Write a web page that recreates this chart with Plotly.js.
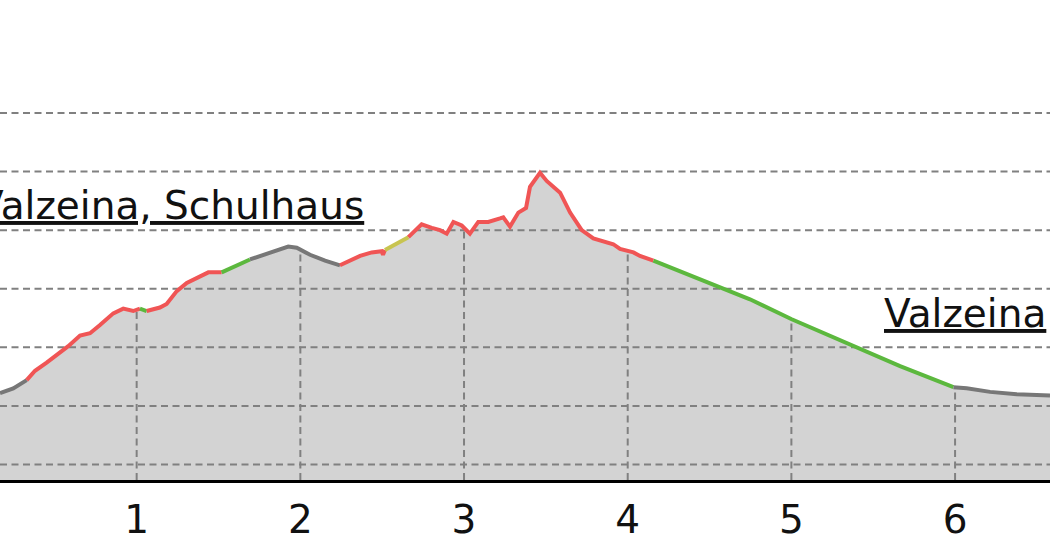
<!DOCTYPE html>
<html>
<head>
<meta charset="utf-8">
<script src="https://cdn.plot.ly/plotly-3.0.1.min.js"></script>
<style>
  html, body { margin: 0; padding: 0; background: #fff; }
  #chart { width: 1050px; height: 560px; }
</style>
</head>
<body>
<div id="chart"></div>
<script>
// elevation profile, distance in km, elevation in m
const distKm = [
    0.165, 0.246, 0.328, 0.379, 0.450, 0.521, 0.582, 0.654, 0.715, 0.776,
    0.857, 0.918, 0.979, 1.020, 1.061, 1.142, 1.183, 1.245, 1.306, 1.367,
    1.438, 1.519, 1.621, 1.692, 1.815, 1.926, 1.978, 2.059, 2.151, 2.242,
    2.365, 2.436, 2.497, 2.505, 2.517, 2.609, 2.660, 2.741, 2.803, 2.853,
    2.894, 2.935, 2.986, 3.036, 3.087, 3.148, 3.220, 3.240, 3.281, 3.332,
    3.379, 3.403, 3.464, 3.505, 3.587, 3.648, 3.719, 3.790, 3.912, 3.953,
    4.035, 4.075, 4.157, 4.747, 5.002, 5.358, 5.664, 5.990, 6.071, 6.214,
    6.377, 6.580
];
const elevM = [
    1161, 1165, 1172, 1180, 1187, 1194, 1201, 1210, 1212, 1219,
    1229, 1233, 1231, 1233, 1231, 1234, 1237, 1248, 1255, 1259,
    1264, 1264, 1271, 1275, 1281, 1286, 1285, 1279, 1274, 1270,
    1278, 1281, 1282, 1279, 1283, 1290, 1294, 1305, 1302, 1300,
    1297, 1307, 1304, 1297, 1307, 1307, 1310, 1311, 1303, 1315,
    1319, 1337, 1349, 1342, 1332, 1315, 1300, 1293, 1288, 1284,
    1281, 1278, 1274, 1241, 1224, 1202, 1184, 1166, 1165, 1162,
    1160, 1159
];
// colour class of the stretch that starts at each point
const segClass = [
    'grey', 'grey', 'red', 'red', 'red', 'red', 'red', 'red', 'red', 'red',
    'red', 'red', 'red', 'green', 'red', 'red', 'red', 'red', 'red', 'red',
    'red', 'green', 'green', 'grey', 'grey', 'grey', 'grey', 'grey', 'grey', 'red',
    'red', 'red', 'red', 'red', 'yellow', 'yellow', 'red', 'red', 'red', 'red',
    'red', 'red', 'red', 'red', 'red', 'red', 'red', 'red', 'red', 'red',
    'red', 'red', 'red', 'red', 'red', 'red', 'red', 'red', 'red', 'red',
    'red', 'red', 'green', 'green', 'green', 'green', 'green', 'grey', 'grey', 'grey',
    'grey', 'grey'
];
const classColors = { grey: '#777777', red: '#f05555', green: '#5cb83e', yellow: '#c8c450' };

const kmTicks = [1, 2, 3, 4, 5, 6];
const gridElev = [1100, 1150, 1200, 1250, 1300, 1350, 1400];

const xRange = [0.165, 6.58];
const yRange = [1086.8, 1496.4];

const font = 'DejaVu Sans, Verdana, sans-serif';
const gridStyle = { color: '#808080', width: 2, dash: '7px,4.5px' };

// vertical grid (only visible under the profile)
const vx = [], vy = [];
kmTicks.forEach(k => { vx.push(k, k, null); vy.push(yRange[0], yRange[1], null); });
// horizontal grid
const hx = [], hy = [];
gridElev.forEach(e => { hx.push(xRange[0], xRange[1], null); hy.push(e, e, null); });

const traces = [
    { x: distKm, y: elevM, mode: 'lines', line: { width: 0 },
      fill: 'tozeroy', fillcolor: '#d3d3d3', hoverinfo: 'skip' },
    { x: vx, y: vy, mode: 'lines', line: gridStyle, hoverinfo: 'skip' },
    { x: distKm, y: elevM, mode: 'lines', line: { width: 0 }, hoverinfo: 'skip' },
    { x: [distKm[0], distKm[distKm.length - 1]], y: [yRange[1] + 50, yRange[1] + 50],
      mode: 'lines', line: { width: 0 }, fill: 'tonexty', fillcolor: '#ffffff', hoverinfo: 'skip' },
    { x: hx, y: hy, mode: 'lines', line: gridStyle, hoverinfo: 'skip' }
];

// coloured profile line, one trace per run of equal class
let start = 0;
for (let i = 1; i < distKm.length; i++) {
    const last = i === distKm.length - 1;
    if (last || segClass[i] !== segClass[start]) {
        traces.push({
            x: distKm.slice(start, i + 1),
            y: elevM.slice(start, i + 1),
            mode: 'lines',
            line: { color: classColors[segClass[start]], width: 4, shape: 'linear' },
            hoverinfo: 'skip'
        });
        start = i;
    }
}

const layout = {
    width: 1050, height: 560,
    margin: { l: 0, r: 0, t: 0, b: 79.5 },
    paper_bgcolor: '#ffffff',
    plot_bgcolor: '#ffffff',
    showlegend: false,
    xaxis: {
        range: xRange, tickvals: kmTicks, ticktext: kmTicks.map(String),
        showgrid: false, zeroline: false, showline: true,
        linecolor: '#000000', linewidth: 2.5, ticks: '', ticklabelstandoff: 4,
        tickfont: { family: font, size: 39, color: '#111111' }
    },
    yaxis: {
        range: yRange, showgrid: false, zeroline: false,
        showline: false, showticklabels: false, ticks: ''
    },
    annotations: [
        { x: 2.40, y: 1321, xref: 'x', yref: 'y', xanchor: 'right', yanchor: 'middle',
          text: '<span style="text-decoration:underline;text-decoration-color:#666">Valzeina, Schulhaus</span>',
          showarrow: false, font: { family: font, size: 39, color: '#111111' } },
        { x: 5.553, y: 1229, xref: 'x', yref: 'y', xanchor: 'left', yanchor: 'middle',
          text: '<span style="text-decoration:underline;text-decoration-color:#666">Valzeina</span>',
          showarrow: false, font: { family: font, size: 39, color: '#111111' } }
    ]
};

Plotly.newPlot('chart', traces, layout, { staticPlot: true });
</script>
</body>
</html>
